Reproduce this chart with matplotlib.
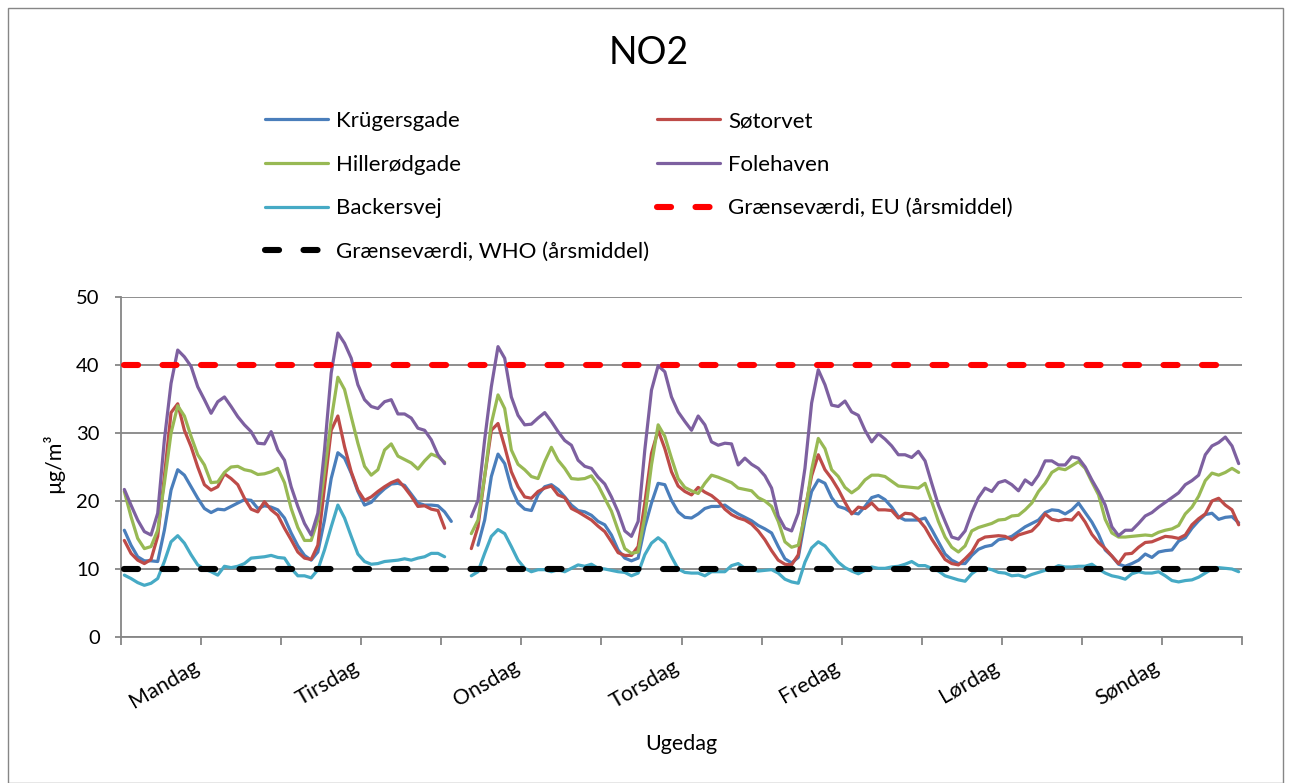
import numpy as np
import matplotlib
matplotlib.use("Agg")
import matplotlib.pyplot as plt
from matplotlib.patches import Rectangle
from matplotlib.transforms import ScaledTranslation

plt.rcParams['font.family'] = ['Lato', 'DejaVu Sans']

nan = np.nan

days = ['Mandag', 'Tirsdag', 'Onsdag', 'Torsdag', 'Fredag', 'Lørdag', 'Søndag']

# Hourly mean NO2 (µg/m³), Monday 00 -> Sunday 23
kruegersgade = [
    15.7, 13.5, 11.8, 11.2, 11.2, 11.1, 15.7, 21.6, 24.6, 23.8, 22.1, 20.4, 18.9, 18.3, 18.8, 18.7, 19.2, 19.7, 20.2, 20.1, 18.9, 19.3, 19.1, 18.7,
    17.5, 15.3, 13.4, 12.0, 11.3, 12.5, 17.2, 23.3, 27.1, 26.3, 24.1, 21.4, 19.4, 19.8, 20.9, 21.8, 22.5, 22.6, 22.3, 21.0, 19.7, 19.4, 19.4, 19.3,
    18.4, 17.0, nan, nan, nan, 13.5, 17.2, 23.6, 26.9, 25.5, 21.9, 19.7, 18.8, 18.6, 20.9, 22.1, 22.4, 21.7, 20.6, 19.4, 18.6, 18.4, 17.9, 17.0,
    16.5, 15.0, 12.8, 11.6, 11.2, 11.6, 16.2, 19.7, 22.6, 22.4, 20.1, 18.4, 17.6, 17.5, 18.1, 18.9, 19.2, 19.2, 19.4, 18.7, 18.1, 17.6, 17.1, 16.4,
    15.9, 15.3, 13.3, 11.5, 10.9, 11.7, 17.2, 21.4, 23.1, 22.6, 20.5, 19.2, 18.9, 18.3, 18.1, 19.2, 20.5, 20.8, 20.2, 19.1, 17.7, 17.2, 17.2, 17.2,
    17.5, 15.8, 14.0, 12.2, 11.3, 10.8, 10.8, 12.0, 12.9, 13.3, 13.5, 14.3, 14.5, 14.8, 15.5, 16.2, 16.7, 17.2, 18.3, 18.7, 18.6, 18.1, 18.7, 19.7,
    18.3, 16.9, 15.1, 12.8, 11.9, 10.7, 10.4, 10.8, 11.3, 12.2, 11.7, 12.5, 12.7, 12.8, 14.1, 14.6, 16.0, 17.1, 18.0, 18.2, 17.3, 17.6, 17.7, 16.8,
]

soetorvet = [
    14.2, 12.3, 11.3, 10.8, 11.4, 14.8, 23.6, 33.0, 34.3, 30.4, 28.0, 25.0, 22.4, 21.6, 22.1, 24.0, 23.3, 22.4, 20.4, 18.8, 18.4, 19.9, 18.7, 17.9,
    16.0, 14.3, 12.5, 11.6, 11.4, 13.5, 22.1, 30.4, 32.5, 28.0, 24.3, 21.6, 20.1, 20.6, 21.4, 22.1, 22.7, 23.1, 22.0, 20.7, 19.2, 19.3, 18.8, 18.6,
    16.0, nan, nan, nan, 13.0, 16.2, 23.6, 30.4, 31.4, 28.0, 24.3, 22.1, 20.6, 20.4, 21.4, 21.9, 22.2, 20.9, 20.5, 18.9, 18.4, 17.8, 17.2, 16.3,
    15.5, 14.0, 12.4, 12.0, 12.0, 13.3, 19.7, 27.0, 30.4, 27.7, 24.3, 22.2, 21.4, 20.9, 22.0, 21.3, 20.8, 20.0, 18.8, 18.0, 17.5, 17.2, 16.6, 15.6,
    14.3, 12.7, 11.3, 10.7, 10.6, 12.1, 18.7, 23.7, 26.8, 24.6, 23.3, 21.7, 19.8, 18.1, 19.1, 18.9, 19.7, 18.7, 18.7, 18.6, 17.5, 18.2, 18.1, 17.3,
    16.1, 14.4, 12.9, 11.4, 10.8, 10.6, 11.5, 12.5, 14.2, 14.7, 14.8, 14.9, 14.8, 14.3, 15.0, 15.3, 15.6, 16.6, 18.1, 17.3, 17.1, 17.3, 17.2, 18.3,
    16.9, 15.1, 13.9, 13.0, 11.9, 10.8, 12.2, 12.3, 13.2, 13.9, 14.0, 14.4, 14.8, 14.7, 14.5, 15.0, 16.5, 17.4, 18.1, 20.0, 20.4, 19.4, 18.7, 16.5,
]

hilleroedgade = [
    21.4, 17.7, 14.5, 13.0, 13.3, 15.7, 22.6, 30.0, 34.0, 32.5, 29.5, 26.8, 25.3, 22.7, 22.8, 24.2, 25.0, 25.1, 24.6, 24.4, 23.9, 24.0, 24.3, 24.8,
    22.7, 18.9, 16.1, 14.2, 14.2, 17.2, 24.3, 31.9, 38.2, 36.4, 32.4, 28.5, 25.1, 23.8, 24.6, 27.5, 28.4, 26.6, 26.1, 25.6, 24.7, 25.9, 26.9, 26.5,
    25.7, nan, nan, nan, 15.2, 17.2, 23.6, 31.4, 35.6, 33.6, 27.5, 25.4, 24.6, 23.6, 23.3, 25.8, 27.9, 26.0, 24.8, 23.3, 23.2, 23.3, 23.7, 22.3,
    20.4, 18.5, 15.7, 13.0, 12.3, 12.5, 17.7, 25.3, 31.2, 29.5, 26.3, 23.3, 22.0, 21.5, 21.1, 22.6, 23.8, 23.5, 23.1, 22.7, 21.9, 21.7, 21.5, 20.5,
    20.0, 19.2, 17.0, 14.0, 13.2, 13.5, 17.9, 24.6, 29.2, 27.7, 24.6, 23.6, 22.0, 21.2, 21.9, 23.1, 23.8, 23.8, 23.6, 22.9, 22.2, 22.1, 22.0, 21.9,
    22.6, 19.9, 17.0, 14.7, 13.2, 12.5, 13.4, 15.6, 16.1, 16.4, 16.7, 17.2, 17.3, 17.8, 17.9, 18.7, 19.7, 21.4, 22.6, 24.2, 24.8, 24.6, 25.2, 25.8,
    24.8, 22.8, 20.9, 17.3, 15.3, 14.7, 14.7, 14.8, 14.9, 15.0, 14.9, 15.4, 15.7, 15.9, 16.4, 18.1, 19.1, 20.7, 23.0, 24.1, 23.8, 24.2, 24.8, 24.2,
]

folehaven = [
    21.7, 19.4, 17.2, 15.5, 15.0, 18.2, 29.0, 37.3, 42.2, 41.2, 39.8, 36.8, 34.9, 32.9, 34.6, 35.3, 33.9, 32.4, 31.2, 30.2, 28.5, 28.4, 30.2, 27.5,
    26.0, 22.1, 19.2, 16.7, 15.0, 18.2, 27.5, 38.8, 44.7, 43.2, 41.0, 37.1, 34.9, 33.9, 33.6, 34.6, 34.9, 32.8, 32.8, 32.2, 30.7, 30.4, 29.0, 26.8,
    25.5, nan, nan, nan, 17.7, 20.1, 29.0, 36.8, 42.7, 41.0, 35.3, 32.6, 31.2, 31.3, 32.2, 33.0, 31.7, 30.2, 28.9, 28.2, 26.0, 25.1, 24.8, 23.5,
    22.5, 20.6, 18.4, 15.6, 14.8, 17.0, 27.5, 36.3, 39.9, 39.0, 35.3, 33.1, 31.7, 30.4, 32.5, 31.2, 28.7, 28.2, 28.5, 28.4, 25.3, 26.3, 25.4, 24.8,
    23.7, 21.9, 17.8, 16.0, 15.6, 18.2, 24.8, 34.4, 39.3, 37.1, 34.1, 33.9, 34.7, 33.1, 32.6, 30.4, 28.7, 29.9, 29.1, 28.1, 26.8, 26.8, 26.4, 27.3,
    25.9, 22.6, 19.4, 17.0, 14.7, 14.4, 15.6, 18.3, 20.5, 21.9, 21.4, 22.7, 23.0, 22.4, 21.5, 23.1, 22.4, 23.8, 25.9, 25.9, 25.3, 25.3, 26.5, 26.3,
    25.0, 23.1, 21.4, 19.4, 16.2, 14.9, 15.7, 15.7, 16.7, 17.8, 18.3, 19.1, 19.8, 20.5, 21.2, 22.4, 23.0, 23.8, 26.8, 28.1, 28.6, 29.4, 28.1, 25.5,
]

backersvej = [
    9.1, 8.6, 8.0, 7.6, 7.9, 8.6, 11.1, 14.0, 14.9, 13.8, 12.1, 10.6, 10.0, 9.6, 9.1, 10.4, 10.2, 10.4, 10.8, 11.6, 11.7, 11.8, 12.0, 11.7,
    11.6, 10.1, 9.0, 9.0, 8.7, 9.9, 12.8, 16.2, 19.4, 17.5, 14.8, 12.2, 11.1, 10.7, 10.8, 11.1, 11.2, 11.3, 11.5, 11.3, 11.6, 11.8, 12.3, 12.3,
    11.8, nan, nan, nan, 9.0, 9.6, 12.3, 14.8, 15.8, 15.2, 13.3, 11.3, 10.1, 9.6, 9.9, 9.9, 9.6, 9.9, 9.6, 10.1, 10.6, 10.4, 10.7, 10.1,
    10.0, 9.8, 9.6, 9.5, 9.0, 9.4, 12.1, 13.8, 14.6, 13.8, 11.8, 10.0, 9.5, 9.4, 9.4, 9.0, 9.6, 9.6, 9.6, 10.5, 10.8, 10.1, 9.9, 9.7,
    9.8, 9.9, 9.4, 8.5, 8.1, 7.9, 11.0, 13.1, 14.0, 13.4, 12.2, 11.0, 10.2, 9.7, 9.3, 9.8, 10.3, 10.1, 10.1, 10.3, 10.4, 10.7, 11.1, 10.5,
    10.5, 10.1, 9.7, 9.0, 8.7, 8.4, 8.2, 9.3, 10.0, 10.1, 9.9, 9.5, 9.4, 9.0, 9.1, 8.8, 9.2, 9.5, 9.8, 10.0, 10.5, 10.3, 10.3, 10.4,
    10.4, 10.7, 10.0, 9.4, 9.0, 8.8, 8.5, 9.3, 9.6, 9.4, 9.4, 9.6, 9.0, 8.3, 8.1, 8.3, 8.4, 8.8, 9.4, 10.0, 10.2, 10.1, 10.0, 9.6,
]

eu_limit = 40
who_limit = 10

series = [
    ('Krügersgade', kruegersgade, '#4A7EBB'),
    ('Søtorvet', soetorvet, '#BE4B48'),
    ('Hillerødgade', hilleroedgade, '#98B954'),
    ('Folehaven', folehaven, '#7D60A0'),
    ('Backersvej', backersvej, '#46AAC5'),
]

n = len(kruegersgade)
x = np.arange(n)

W, H = 1289, 783
fig = plt.figure(figsize=(W / 100, H / 100), dpi=100)
fig.patch.set_facecolor('white')

# plot area in pixels: x 121..1242, y 297..637
ax = fig.add_axes([121 / W, 1 - 637 / H, (1242 - 121) / W, (637 - 297) / H])

grid_c = '#868686'
handles = {}
for name, vals, col in series:
    ln, = ax.plot(x, np.array(vals, dtype=float), color=col, lw=2.3,
                  solid_joinstyle='round', solid_capstyle='round', label=name, zorder=3)
    handles[name] = ln

dash = (0, (2.3, 4.0))
eu_ln, = ax.plot(x, np.full(n, eu_limit, dtype=float), color='#FF0000', lw=4.4,
                 linestyle=dash, dash_capstyle='round', zorder=4,
                 label='Grænseværdi, EU (årsmiddel)')
who_ln, = ax.plot(x, np.full(n, who_limit, dtype=float), color='#000000', lw=4.4,
                  linestyle=dash, dash_capstyle='round', zorder=4,
                  label='Grænseværdi, WHO (årsmiddel)')

ax.set_xlim(-0.5, n - 0.5)
ax.set_ylim(0, 50)
ax.set_yticks(np.arange(0, 51, 10))
ax.yaxis.grid(True, color=grid_c, lw=1.3, zorder=0)
ax.set_axisbelow(True)

for s in ['top', 'right']:
    ax.spines[s].set_visible(False)
for s in ['left', 'bottom']:
    ax.spines[s].set_color(grid_c)
    ax.spines[s].set_linewidth(1.3)

xt = np.arange(-0.5, n, 12)
xl = []
for k in range(len(xt)):
    xl.append(days[k // 2] if k % 2 == 1 else '')
ax.set_xticks(xt)
ax.set_xticklabels(xl)

ax.tick_params(axis='x', direction='out', length=5.8, width=1.3, color=grid_c,
               labelsize=15.5, pad=8.5)
ax.tick_params(axis='y', direction='out', length=4.3, width=1.3, color=grid_c,
               labelsize=14.5, pad=11)

shift = ScaledTranslation(-9 / 100, 0, fig.dpi_scale_trans)
for lbl in ax.get_xticklabels():
    lbl.set_rotation(30)
    lbl.set_ha('right')
    lbl.set_rotation_mode('anchor')
    lbl.set_transform(lbl.get_transform() + shift)

ax.set_xlabel('Ugedag', fontsize=15.5)
ax.xaxis.set_label_coords(0.5, (637 - 734) / 340)
ax.set_ylabel('µg/m³', fontsize=15.5)
ax.yaxis.set_label_coords((64 - 121) / 1121, 0.512)

fig.text(649 / W, 1 - 53 / H, 'NO2', fontsize=27, ha='center', va='center')

# legend, two columns (row-major order as in the original)
leg_kw = dict(frameon=False, fontsize=16, handlelength=2.84, handletextpad=0.36,
              labelspacing=1.065, borderpad=0, borderaxespad=0, loc='upper left')
col1 = [handles['Krügersgade'], handles['Hillerødgade'], handles['Backersvej'], who_ln]
col2 = [handles['Søtorvet'], handles['Folehaven'], eu_ln]
leg1 = fig.legend(col1, [h.get_label() for h in col1],
                  bbox_to_anchor=(265 / W, 1 - 111 / H), **leg_kw)
leg2 = fig.legend(col2, [h.get_label() for h in col2],
                  bbox_to_anchor=(657 / W, 1 - 111 / H), **leg_kw)

# chart border
fig.patches.append(Rectangle((7.5 / W, 0.5 / H), (1283 - 7.5) / W, (775.5 - 0.5) / H,
                             transform=fig.transFigure, fill=False,
                             edgecolor=grid_c, lw=1.0))

fig.savefig('out.png', dpi=100)
